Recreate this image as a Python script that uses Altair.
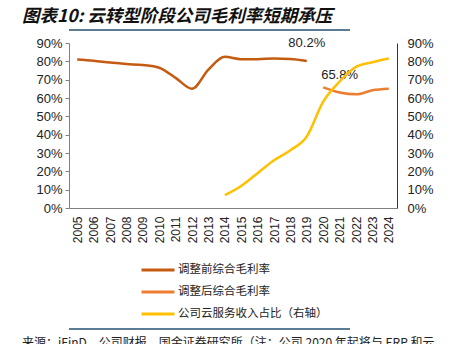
import altair as alt
import pandas as pd

years = [str(y) for y in range(2005, 2025)]

before_years = [str(y) for y in range(2005, 2020)]
before_vals = [0.810, 0.803, 0.793, 0.785, 0.780, 0.765, 0.710, 0.650, 0.755, 0.825, 0.812, 0.812, 0.815, 0.813, 0.802]

after_years = [str(y) for y in range(2020, 2025)]
after_vals = [0.658, 0.630, 0.620, 0.642, 0.650]

cloud_years = [str(y) for y in range(2014, 2025)]
cloud_vals = [0.070, 0.120, 0.190, 0.260, 0.315, 0.390, 0.580, 0.690, 0.770, 0.795, 0.815]

series_names = ["调整前综合毛利率", "调整后综合毛利率", "公司云服务收入占比（右轴）"]
series_colors = ["#C55A11", "#ED7D31", "#FFC000"]

label_years = ["2019", "2021"]
label_vals = [0.802, 0.658]
label_texts = ["80.2%", "65.8%"]

rows = []
for y, v in zip(before_years, before_vals):
    rows.append({"year": y, "value": v, "series": series_names[0]})
for y, v in zip(after_years, after_vals):
    rows.append({"year": y, "value": v, "series": series_names[1]})
left_df = pd.DataFrame(rows)
right_df = pd.DataFrame({"year": cloud_years, "value": cloud_vals, "series": series_names[2]})
lab_df = pd.DataFrame({"year": label_years, "value": label_vals, "text": label_texts})

FONT = "Liberation Sans"
CJK = "Noto Sans CJK SC"

xscale = alt.Scale(type="point", domain=years, padding=0.5)
xaxis = alt.Axis(title=None, labelAngle=270, labelFontSize=12, labelFont=FONT,
                 labelColor="#222", ticks=False, domainColor="#808080",
                 labelPadding=8, labelAlign="right", labelBaseline="middle")
xenc = alt.X("year:N", scale=xscale, axis=xaxis)

color = alt.Color("series:N", scale=alt.Scale(domain=series_names, range=series_colors),
                  legend=alt.Legend(title=None, orient="none", legendX=79, legendY=217,
                                    direction="vertical", symbolType="M-2,0H2",
                                    symbolSize=272, symbolStrokeWidth=3,
                                    labelFont=CJK, labelFontSize=11.5, labelColor="#222",
                                    rowPadding=6, labelOffset=10))

yscale = alt.Scale(domain=[0, 0.9], nice=False)
vals = [i / 10 for i in range(10)]
yaxis_left = alt.Axis(title=None, orient="left", values=vals, format=".0%", grid=False,
                      labelFontSize=13, labelFont=FONT, labelColor="#222",
                      labelOverlap=False,
                      domainColor="#808080", tickColor="#808080", tickSize=4,
                      labelPadding=3)

left_lines = alt.Chart(left_df).mark_line(strokeWidth=2.5, interpolate="monotone").encode(
    x=xenc,
    y=alt.Y("value:Q", scale=yscale, axis=yaxis_left),
    color=color,
    detail="series:N",
)

lab1 = alt.Chart(lab_df.iloc[[0]]).mark_text(font=FONT, fontSize=13, color="#222", dy=-18).encode(
    x=xenc,
    y=alt.Y("value:Q", scale=yscale, axis=yaxis_left), text="text:N")
lab2 = alt.Chart(lab_df.iloc[[1]]).mark_text(font=FONT, fontSize=13, color="#222", dy=-12).encode(
    x=xenc,
    y=alt.Y("value:Q", scale=yscale, axis=yaxis_left), text="text:N")

left = alt.layer(left_lines, lab1, lab2)

right = alt.Chart(right_df).mark_line(strokeWidth=2.5, interpolate="monotone").encode(
    x=xenc,
    y=alt.Y("value:Q", scale=yscale,
            axis=alt.Axis(title=None, orient="right", values=vals, format=".0%", grid=False,
                          labelFontSize=13, labelFont=FONT, labelColor="#222",
                          labelOverlap=False,
                          domainColor="#333333", ticks=False, labelPadding=10)),
    color=color,
)

one = pd.DataFrame({"a": [0]})
deco_top = alt.Chart(one).mark_rule(stroke="#24506E", strokeWidth=1.5,
                                    xOffset=-47, x2Offset=120, yOffset=-13).encode(
    y=alt.value(0))
deco_bot = alt.Chart(one).mark_rule(stroke="#24506E", strokeWidth=1.5,
                                    xOffset=-47, x2Offset=120).encode(
    y=alt.value(286))
source = alt.Chart(pd.DataFrame({"t": ["来源：iFinD，公司财报，国金证券研究所（注：公司 2020 年起将与 ERP 和云"]})).mark_text(
    font=CJK, fontSize=12, color="#222", align="left", baseline="alphabetic").encode(
    x=alt.value(-47), y=alt.value(304), text="t:N")

chart = alt.layer(left, right, deco_top, deco_bot, source).resolve_scale(y="independent").properties(
    width=328, height=165,
    autosize=alt.AutoSizeParams(type="none"),
    padding={"left": 69, "top": 43, "right": 73, "bottom": 136},
    title=alt.TitleParams("图表10:  云转型阶段公司毛利率短期承压", anchor="start", font=CJK,
                          fontSize=17.5, fontWeight="bold", fontStyle="italic", color="#111",
                          frame="group", dx=-47, offset=4),
).configure_view(stroke=None)

chart.save("out.html", embed_options={"renderer": "svg", "actions": False})
